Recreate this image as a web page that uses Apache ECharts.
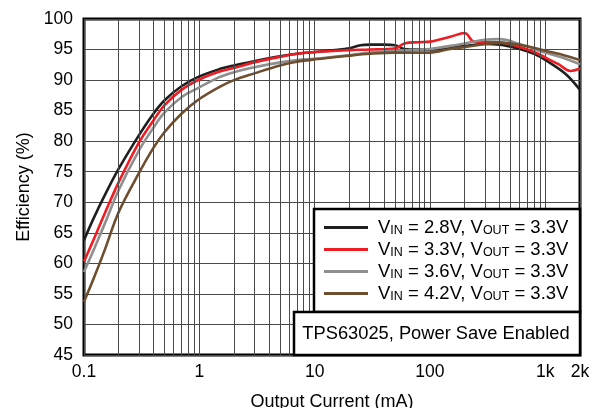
<!DOCTYPE html>
<html><head><meta charset="utf-8">
<script src="https://cdn.jsdelivr.net/npm/echarts@6/dist/echarts.min.js"></script>
<style>html,body{margin:0;padding:0;background:#fff}#c{width:600px;height:408px}</style>
</head><body><div id="c"></div>
<script>
// ---- data ----
const vinLabels = ['2.8V', '3.3V', '3.6V', '4.2V'];
const voutLabel = '3.3V';
const seriesColors = ['#1f1f1f', '#ee1d23', '#8f8f8f', '#6e4e2e'];

const curBlack = [0.1,0.12,0.15,0.2,0.3,0.4,0.5,0.7,1,1.5,2,3,5,7,10,15,20,25,30,40,50,60,80,100,150,200,300,400,600,800,1000,1500,2000];
const effBlack = [63.8,67.2,71.0,75.5,81.0,84.5,86.7,89.0,90.6,91.8,92.4,93.1,93.9,94.3,94.6,94.9,95.2,95.7,95.8,95.8,95.7,95.1,95.0,95.0,95.3,95.6,95.9,95.8,95.1,94.3,93.3,91.0,88.4];

const curRed = [0.1,0.12,0.15,0.2,0.3,0.4,0.5,0.7,1,1.5,2,3,5,7,10,20,30,50,60,80,100,150,200,240,300,400,600,800,1000,1300,1650,2000];
const effRed = [60.3,63.7,68.0,73.3,79.8,83.4,85.9,88.4,90.1,91.4,92.0,92.9,93.8,94.3,94.6,94.9,95.0,95.2,96.0,96.2,96.3,97.1,97.7,96.3,96.2,96.2,95.4,94.6,93.7,92.6,91.5,91.9];

const curGray = [0.1,0.12,0.15,0.2,0.3,0.4,0.5,0.7,1,1.5,2,3,5,7,10,20,30,50,100,150,200,300,400,600,1000,1500,2000];
const effGray = [58.6,62.0,66.3,72.0,78.5,82.2,84.7,87.2,88.8,90.5,91.3,92.1,92.9,93.3,93.5,94.1,94.5,94.8,95.1,95.6,96.0,96.6,96.7,95.9,94.5,93.5,92.6];

const curBrown = [0.1,0.12,0.15,0.2,0.3,0.4,0.5,0.7,1,1.5,2,3,5,7,10,20,30,50,100,150,200,300,400,600,1000,1500,2000];
const effBrown = [53.7,57.3,62.0,68.4,74.8,78.9,81.5,84.5,86.9,88.9,90.0,91.1,92.4,93.0,93.4,94.0,94.3,94.5,94.5,95.1,95.4,95.9,96.1,95.8,94.8,94.0,93.3];

const xTickValues = [0.1, 1, 10, 100, 1000, 2000];
const xTickLabels = ['0.1', '1', '10', '100', '1k', '2k'];
const annotation = 'TPS63025, Power Save Enabled';
const xTitle = 'Output Current (mA)';
const yTitle = 'Efficiency (%)';

// ---- build ----
const FONT = 'Liberation Sans';
const curs = [curBlack, curRed, curGray, curBrown];
const effs = [effBlack, effRed, effGray, effBrown];
const names = vinLabels.map(v => 'VIN = ' + v + ', VOUT = ' + voutLabel);

const minorVals = [];
[0.1, 1, 10, 100].forEach(d => { for (let k = 2; k <= 9; k++) minorVals.push(+(d * k).toPrecision(6)); });

const series = names.map((n, i) => ({
  name: n, type: 'line', showSymbol: false, smooth: 0.35, z: 3,
  lineStyle: { color: seriesColors[i], width: 2.6 },
  itemStyle: { color: seriesColors[i] },
  data: curs[i].map((c, j) => [c, effs[i][j]])
}));
series.push({
  name: 'grid-minor', type: 'line', data: [], z: 1, silent: true,
  markLine: {
    silent: true, symbol: ['none', 'none'], label: { show: false }, animation: false,
    lineStyle: { color: '#4a4a4a', width: 1, type: 'solid' },
    emphasis: { disabled: true },
    data: minorVals.map(v => ({ xAxis: v }))
  }
});

const chart = echarts.init(document.getElementById('c'), null, { renderer: 'canvas' });
chart.setOption({
  animation: false,
  textStyle: { fontFamily: FONT },
  grid: { left: 84, top: 19, right: 20, bottom: 53, containLabel: false, outerBoundsMode: 'none',
          show: true, borderColor: '#000', borderWidth: 3, backgroundColor: 'transparent' },
  xAxis: {
    type: 'log', logBase: 10, min: 0.1, max: 2000,
    axisLine: { show: false }, axisTick: { show: false },
    splitLine: { show: true, lineStyle: { color: '#4a4a4a', width: 1 } },
    axisLabel: {
      fontSize: 17.5, color: '#000', margin: 8, fontFamily: FONT, showMaxLabel: true, showMinLabel: true,
      formatter: v => {
        let best = -1, bd = 1e9;
        xTickValues.forEach((t, i) => { const d = Math.abs(Math.log10(v) - Math.log10(t)); if (d < bd) { bd = d; best = i; } });
        return bd < 0.01 ? xTickLabels[best] : '';
      }
    },
    name: xTitle, nameLocation: 'middle', nameGap: 38,
    nameTextStyle: { fontSize: 18, color: '#000', fontFamily: FONT }
  },
  yAxis: {
    type: 'value', min: 45, max: 100, interval: 5,
    axisLine: { show: false }, axisTick: { show: false },
    splitLine: { show: true, lineStyle: { color: '#4a4a4a', width: 1 } },
    axisLabel: { fontSize: 17.5, color: '#000', margin: 11, fontFamily: FONT },
    name: yTitle, nameLocation: 'middle', nameGap: 44,
    nameTextStyle: { fontSize: 18, color: '#000', fontFamily: FONT }
  },
  legend: {
    data: names, orient: 'vertical', left: 324, top: 218, padding: 0,
    itemWidth: 44, itemHeight: 3, itemGap: 2.5, icon: 'rect', selectedMode: false, z: 200, zlevel: 1,
    formatter: n => {
      const i = names.indexOf(n);
      return '{m|V}{s|IN}{m| = ' + vinLabels[i] + ', V}{s|OUT}{m| = ' + voutLabel + '}';
    },
    textStyle: {
      padding: [0, 0, 0, 5],
      rich: {
        m: { fontSize: 18.5, lineHeight: 20, color: '#000', fontFamily: FONT },
        s: { fontSize: 12.5, lineHeight: 12, verticalAlign: 'bottom', color: '#000', fontFamily: FONT }
      }
    }
  },
  graphic: {
    elements: [
      { type: 'rect', z: 100, zlevel: 1, shape: { x: 314, y: 209, width: 266, height: 103 }, style: { fill: '#fff', stroke: '#000', lineWidth: 2.5 } },
      { type: 'rect', z: 100, zlevel: 1, shape: { x: 294, y: 312, width: 286, height: 43 }, style: { fill: '#fff', stroke: '#000', lineWidth: 2.5 } },
      { type: 'text', z: 101, zlevel: 1, x: 436, y: 334, style: { text: annotation, font: '18.3px "Liberation Sans"', fill: '#000', textAlign: 'center', textVerticalAlign: 'middle' } }
    ]
  },
  series: series
});
</script>
</body></html>
